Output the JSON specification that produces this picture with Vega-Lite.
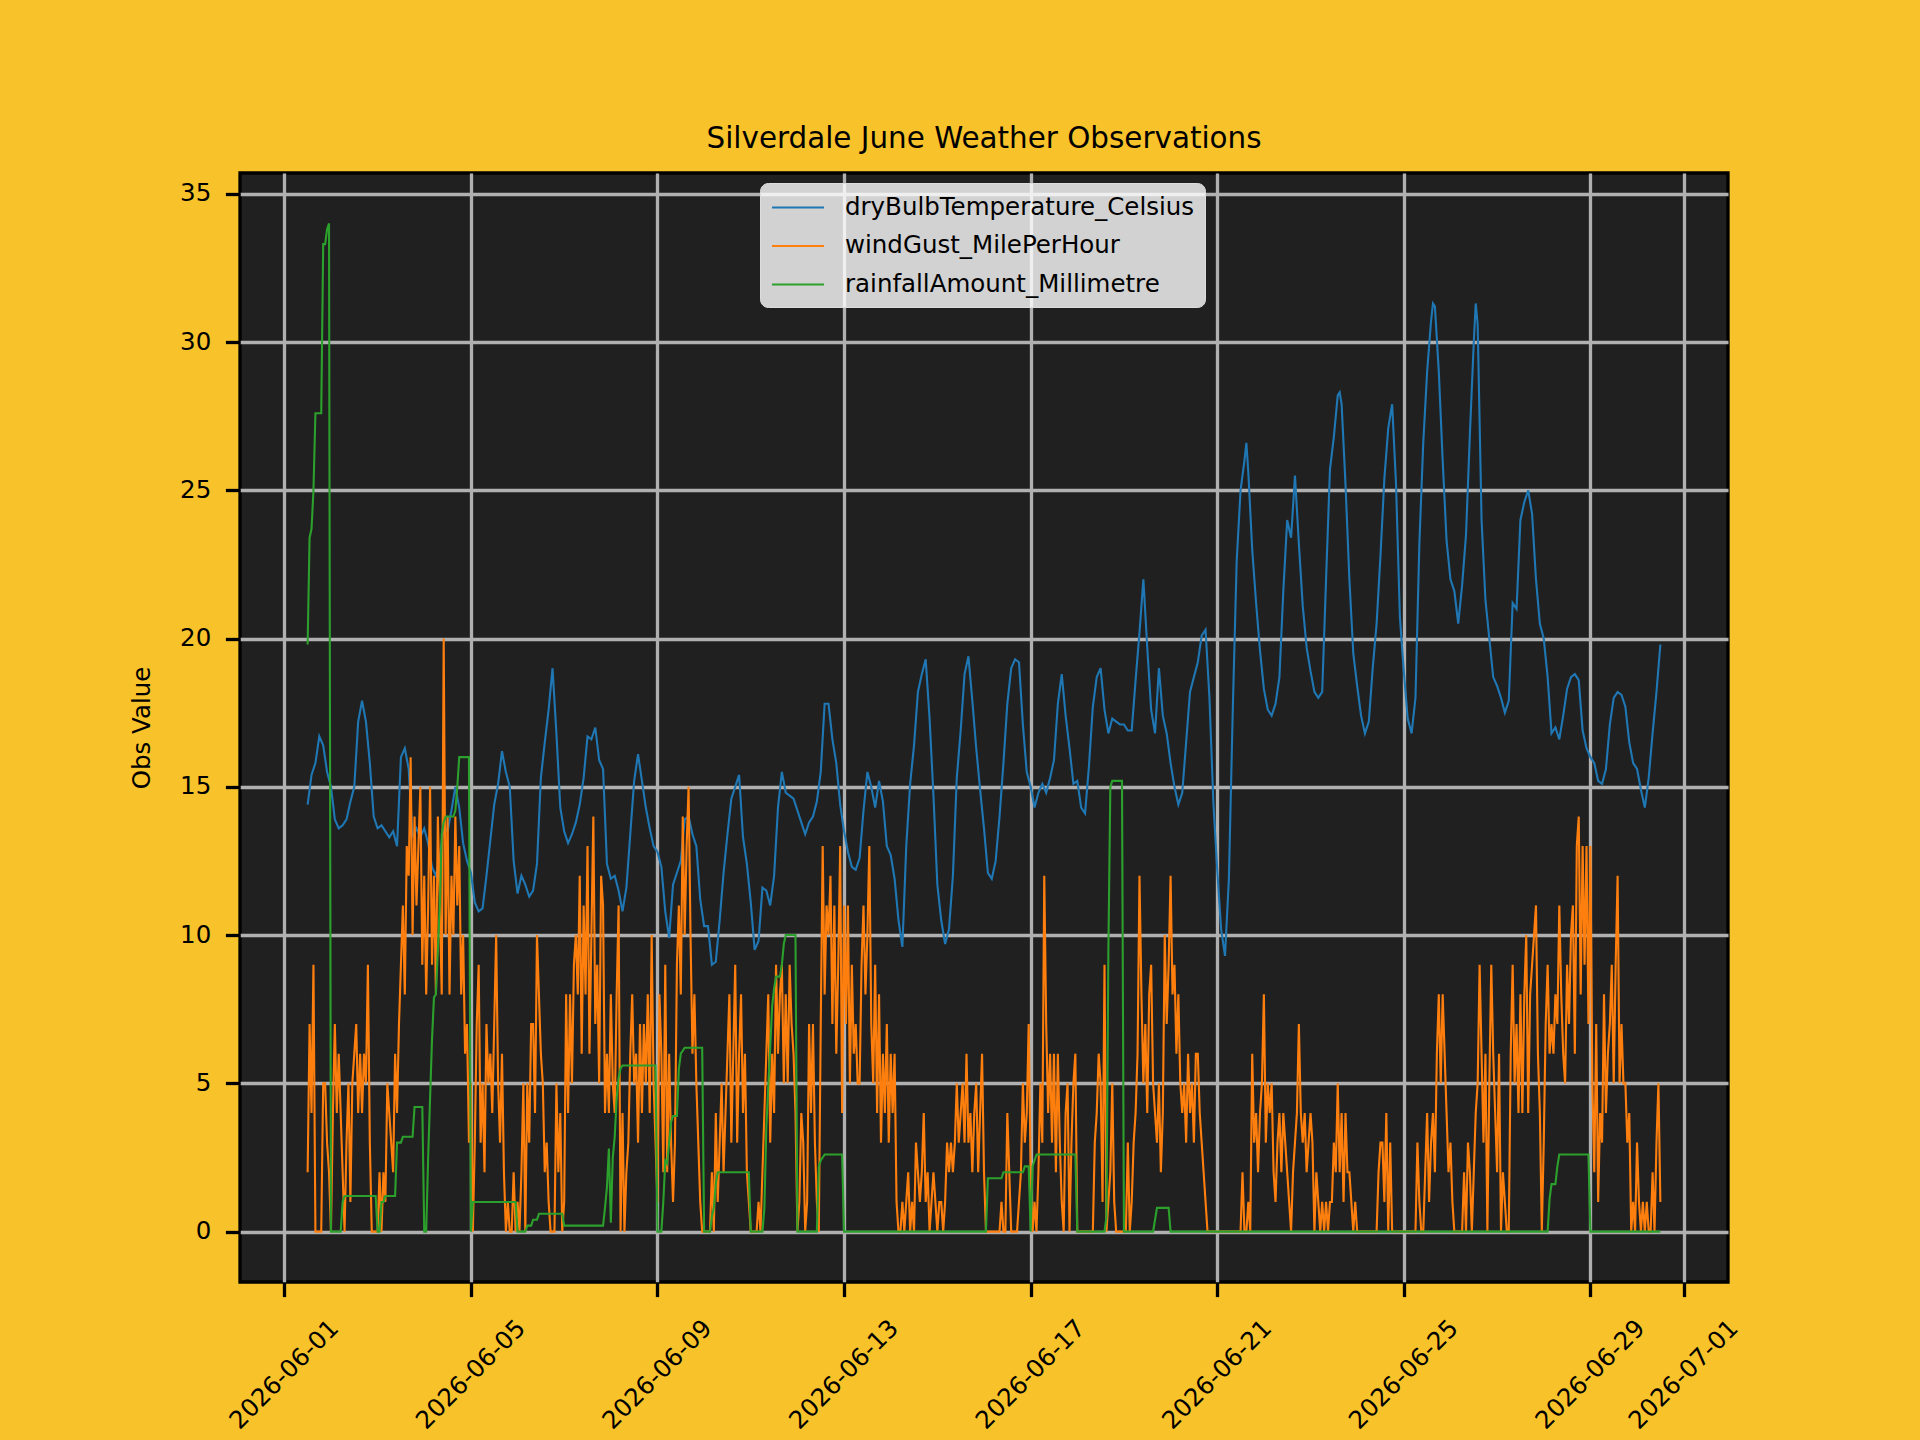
{
  "$schema": "https://vega.github.io/schema/vega-lite/v6.json",
  "width": 1488,
  "height": 1109,
  "autosize": {"type": "none"},
  "padding": {"left": 240, "top": 173, "right": 192, "bottom": 158},
  "background": "#F8C32A",
  "title": {
    "text": "Silverdale June Weather Observations",
    "font": "DejaVu Sans",
    "fontSize": 29.4,
    "fontWeight": "normal",
    "color": "#000000",
    "anchor": "middle",
    "frame": "group",
    "baseline": "alphabetic",
    "offset": -4.4
  },
  "config": {
    "font": "DejaVu Sans",
    "view": {"fill": "#202020", "stroke": "#000000", "strokeWidth": 3.3},
    "axis": {
      "domain": false,
      "grid": true,
      "gridColor": "#b0b0b0",
      "gridWidth": 3.3,
      "tickColor": "#000000",
      "tickWidth": 3.3,
      "tickSize": 14.6,
      "labelColor": "#000000",
      "labelFont": "DejaVu Sans",
      "labelFontSize": 24.5,
      "titleFont": "DejaVu Sans",
      "titleFontSize": 24.5,
      "titleFontWeight": "normal",
      "titleColor": "#000000"
    }
  },
  "encoding": {
    "x": {
      "field": "t",
      "type": "temporal",
      "scale": {
        "domain": [
          {"year": 2026, "month": 5, "date": 31, "hours": 1, "minutes": 12},
          {"year": 2026, "month": 7, "date": 1, "hours": 22, "minutes": 48}
        ]
      },
      "axis": {
        "title": null,
        "format": "%Y-%m-%d",
        "values": [
          {"year": 2026, "month": 6, "date": 1},
          {"year": 2026, "month": 6, "date": 5},
          {"year": 2026, "month": 6, "date": 9},
          {"year": 2026, "month": 6, "date": 13},
          {"year": 2026, "month": 6, "date": 17},
          {"year": 2026, "month": 6, "date": 21},
          {"year": 2026, "month": 6, "date": 25},
          {"year": 2026, "month": 6, "date": 29},
          {"year": 2026, "month": 7, "date": 1}
        ],
        "labelAngle": -45,
        "labelAlign": "center",
        "labelBaseline": "middle",
        "labelPadding": 78,
        "labelFlush": false,
        "labelOverlap": false
      }
    },
    "y": {
      "field": "v",
      "type": "quantitative",
      "scale": {"domain": [-1.7, 35.7], "nice": false, "zero": false},
      "axis": {
        "title": "Obs Value",
        "values": [0, 5, 10, 15, 20, 25, 30, 35],
        "labelPadding": 14.6,
        "titlePadding": 25
      }
    }
  },
  "layer": [
    {
      "data": {
        "format": {"parse": {"t": "date:'%Y%m%d%H'"}},
        "values": [
{"t":"2026060112","v":14.4},{"t":"2026060114","v":15.4},{"t":"2026060116","v":15.8},{"t":"2026060118","v":16.7},{"t":"2026060120","v":16.4},{"t":"2026060122","v":15.5},
{"t":"2026060200","v":15.0},{"t":"2026060202","v":13.9},{"t":"2026060204","v":13.6},{"t":"2026060206","v":13.7},{"t":"2026060208","v":13.9},{"t":"2026060210","v":14.5},{"t":"2026060212","v":15.0},{"t":"2026060214","v":17.2},{"t":"2026060216","v":17.9},{"t":"2026060218","v":17.2},{"t":"2026060220","v":15.8},{"t":"2026060222","v":14.0},
{"t":"2026060300","v":13.6},{"t":"2026060302","v":13.7},{"t":"2026060304","v":13.5},{"t":"2026060306","v":13.3},{"t":"2026060308","v":13.5},{"t":"2026060310","v":13.0},{"t":"2026060312","v":16.0},{"t":"2026060314","v":16.3},{"t":"2026060316","v":15.6},{"t":"2026060318","v":13.3},{"t":"2026060320","v":13.6},{"t":"2026060322","v":13.3},
{"t":"2026060400","v":13.6},{"t":"2026060402","v":13.1},{"t":"2026060404","v":12.3},{"t":"2026060406","v":12.0},{"t":"2026060408","v":12.6},{"t":"2026060410","v":13.7},{"t":"2026060412","v":13.5},{"t":"2026060414","v":14.2},{"t":"2026060416","v":15.0},{"t":"2026060418","v":14.3},{"t":"2026060420","v":13.1},{"t":"2026060422","v":12.5},
{"t":"2026060500","v":12.1},{"t":"2026060502","v":11.1},{"t":"2026060504","v":10.8},{"t":"2026060506","v":10.9},{"t":"2026060508","v":12.0},{"t":"2026060510","v":13.2},{"t":"2026060512","v":14.4},{"t":"2026060514","v":15.1},{"t":"2026060516","v":16.2},{"t":"2026060518","v":15.5},{"t":"2026060520","v":15.0},{"t":"2026060522","v":12.5},
{"t":"2026060600","v":11.4},{"t":"2026060602","v":12.0},{"t":"2026060604","v":11.7},{"t":"2026060606","v":11.3},{"t":"2026060608","v":11.5},{"t":"2026060610","v":12.4},{"t":"2026060612","v":15.3},{"t":"2026060614","v":16.5},{"t":"2026060616","v":17.6},{"t":"2026060618","v":19.0},{"t":"2026060620","v":16.8},{"t":"2026060622","v":14.3},
{"t":"2026060700","v":13.5},{"t":"2026060702","v":13.1},{"t":"2026060704","v":13.4},{"t":"2026060706","v":13.8},{"t":"2026060708","v":14.4},{"t":"2026060710","v":15.3},{"t":"2026060712","v":16.7},{"t":"2026060714","v":16.6},{"t":"2026060716","v":17.0},{"t":"2026060718","v":15.9},{"t":"2026060720","v":15.6},{"t":"2026060722","v":12.4},
{"t":"2026060800","v":11.9},{"t":"2026060802","v":12.0},{"t":"2026060804","v":11.5},{"t":"2026060806","v":10.8},{"t":"2026060808","v":11.6},{"t":"2026060810","v":13.4},{"t":"2026060812","v":15.2},{"t":"2026060814","v":16.1},{"t":"2026060816","v":15.2},{"t":"2026060818","v":14.3},{"t":"2026060820","v":13.6},{"t":"2026060822","v":13.0},
{"t":"2026060900","v":12.8},{"t":"2026060902","v":12.3},{"t":"2026060904","v":10.8},{"t":"2026060906","v":9.9},{"t":"2026060908","v":11.7},{"t":"2026060910","v":12.1},{"t":"2026060912","v":12.5},{"t":"2026060914","v":13.9},{"t":"2026060916","v":14.0},{"t":"2026060918","v":13.4},{"t":"2026060920","v":13.0},{"t":"2026060922","v":11.2},
{"t":"2026061000","v":10.3},{"t":"2026061002","v":10.3},{"t":"2026061004","v":9.0},{"t":"2026061006","v":9.1},{"t":"2026061008","v":10.5},{"t":"2026061010","v":12.1},{"t":"2026061012","v":13.4},{"t":"2026061014","v":14.6},{"t":"2026061016","v":15.0},{"t":"2026061018","v":15.4},{"t":"2026061020","v":13.3},{"t":"2026061022","v":12.4},
{"t":"2026061100","v":11.1},{"t":"2026061102","v":9.5},{"t":"2026061104","v":9.8},{"t":"2026061106","v":11.6},{"t":"2026061108","v":11.5},{"t":"2026061110","v":11.0},{"t":"2026061112","v":12.0},{"t":"2026061114","v":14.3},{"t":"2026061116","v":15.5},{"t":"2026061118","v":14.8},{"t":"2026061120","v":14.7},{"t":"2026061122","v":14.6},
{"t":"2026061200","v":14.2},{"t":"2026061202","v":13.8},{"t":"2026061204","v":13.4},{"t":"2026061206","v":13.8},{"t":"2026061208","v":14.0},{"t":"2026061210","v":14.5},{"t":"2026061212","v":15.5},{"t":"2026061214","v":17.8},{"t":"2026061216","v":17.8},{"t":"2026061218","v":16.6},{"t":"2026061220","v":15.8},{"t":"2026061222","v":14.4},
{"t":"2026061300","v":13.5},{"t":"2026061302","v":12.8},{"t":"2026061304","v":12.3},{"t":"2026061306","v":12.2},{"t":"2026061308","v":12.6},{"t":"2026061310","v":14.2},{"t":"2026061312","v":15.5},{"t":"2026061314","v":15.0},{"t":"2026061316","v":14.3},{"t":"2026061318","v":15.2},{"t":"2026061320","v":14.5},{"t":"2026061322","v":13.0},
{"t":"2026061400","v":12.7},{"t":"2026061402","v":11.9},{"t":"2026061404","v":10.5},{"t":"2026061406","v":9.6},{"t":"2026061408","v":13.0},{"t":"2026061410","v":15.1},{"t":"2026061412","v":16.4},{"t":"2026061414","v":18.2},{"t":"2026061416","v":18.8},{"t":"2026061418","v":19.3},{"t":"2026061420","v":17.3},{"t":"2026061422","v":14.7},
{"t":"2026061500","v":11.7},{"t":"2026061502","v":10.5},{"t":"2026061504","v":9.7},{"t":"2026061506","v":10.2},{"t":"2026061508","v":12.0},{"t":"2026061510","v":15.3},{"t":"2026061512","v":16.9},{"t":"2026061514","v":18.8},{"t":"2026061516","v":19.4},{"t":"2026061518","v":17.9},{"t":"2026061520","v":16.3},{"t":"2026061522","v":14.9},
{"t":"2026061600","v":13.6},{"t":"2026061602","v":12.1},{"t":"2026061604","v":11.9},{"t":"2026061606","v":12.5},{"t":"2026061608","v":14.0},{"t":"2026061610","v":15.8},{"t":"2026061612","v":17.8},{"t":"2026061614","v":19.0},{"t":"2026061616","v":19.3},{"t":"2026061618","v":19.2},{"t":"2026061620","v":17.1},{"t":"2026061622","v":15.5},
{"t":"2026061700","v":15.0},{"t":"2026061702","v":14.3},{"t":"2026061704","v":14.8},{"t":"2026061706","v":15.1},{"t":"2026061708","v":14.8},{"t":"2026061710","v":15.3},{"t":"2026061712","v":15.9},{"t":"2026061714","v":17.8},{"t":"2026061716","v":18.8},{"t":"2026061718","v":17.4},{"t":"2026061720","v":16.3},{"t":"2026061722","v":15.1},
{"t":"2026061800","v":15.2},{"t":"2026061802","v":14.3},{"t":"2026061804","v":14.1},{"t":"2026061806","v":15.7},{"t":"2026061808","v":17.7},{"t":"2026061810","v":18.7},{"t":"2026061812","v":19.0},{"t":"2026061814","v":17.6},{"t":"2026061816","v":16.8},{"t":"2026061818","v":17.3},{"t":"2026061820","v":17.2},{"t":"2026061822","v":17.1},
{"t":"2026061900","v":17.1},{"t":"2026061902","v":16.9},{"t":"2026061904","v":16.9},{"t":"2026061906","v":18.6},{"t":"2026061908","v":20.2},{"t":"2026061910","v":22.0},{"t":"2026061912","v":19.7},{"t":"2026061914","v":17.6},{"t":"2026061916","v":16.8},{"t":"2026061918","v":19.0},{"t":"2026061920","v":17.4},{"t":"2026061922","v":16.8},
{"t":"2026062000","v":15.8},{"t":"2026062002","v":15.0},{"t":"2026062004","v":14.4},{"t":"2026062006","v":14.8},{"t":"2026062008","v":16.5},{"t":"2026062010","v":18.2},{"t":"2026062012","v":18.7},{"t":"2026062014","v":19.2},{"t":"2026062016","v":20.1},{"t":"2026062018","v":20.3},{"t":"2026062020","v":18.0},{"t":"2026062022","v":14.5},
{"t":"2026062100","v":12.2},{"t":"2026062102","v":10.2},{"t":"2026062104","v":9.3},{"t":"2026062106","v":11.9},{"t":"2026062108","v":17.6},{"t":"2026062110","v":22.6},{"t":"2026062112","v":25.0},{"t":"2026062114","v":26.0},{"t":"2026062115","v":26.6},{"t":"2026062116","v":25.6},{"t":"2026062118","v":23.0},{"t":"2026062120","v":21.2},{"t":"2026062122","v":19.6},
{"t":"2026062200","v":18.3},{"t":"2026062202","v":17.6},{"t":"2026062204","v":17.4},{"t":"2026062206","v":17.8},{"t":"2026062208","v":18.7},{"t":"2026062210","v":21.6},{"t":"2026062212","v":24.0},{"t":"2026062214","v":23.4},{"t":"2026062216","v":25.5},{"t":"2026062218","v":23.2},{"t":"2026062220","v":21.1},{"t":"2026062222","v":19.7},
{"t":"2026062300","v":18.9},{"t":"2026062302","v":18.2},{"t":"2026062304","v":18.0},{"t":"2026062306","v":18.2},{"t":"2026062308","v":22.0},{"t":"2026062310","v":25.7},{"t":"2026062312","v":26.8},{"t":"2026062314","v":28.2},{"t":"2026062315","v":28.3},{"t":"2026062316","v":27.9},{"t":"2026062318","v":25.2},{"t":"2026062320","v":22.0},{"t":"2026062322","v":19.5},
{"t":"2026062400","v":18.4},{"t":"2026062402","v":17.4},{"t":"2026062404","v":16.8},{"t":"2026062406","v":17.2},{"t":"2026062408","v":19.0},{"t":"2026062410","v":20.5},{"t":"2026062412","v":22.8},{"t":"2026062414","v":25.4},{"t":"2026062416","v":27.1},{"t":"2026062418","v":27.9},{"t":"2026062420","v":25.2},{"t":"2026062422","v":20.7},
{"t":"2026062500","v":18.9},{"t":"2026062502","v":17.3},{"t":"2026062504","v":16.8},{"t":"2026062506","v":18.0},{"t":"2026062508","v":23.2},{"t":"2026062510","v":26.6},{"t":"2026062512","v":29.0},{"t":"2026062514","v":30.7},{"t":"2026062515","v":31.3},{"t":"2026062516","v":31.2},{"t":"2026062518","v":29.0},{"t":"2026062520","v":26.0},{"t":"2026062522","v":23.3},
{"t":"2026062600","v":22.0},{"t":"2026062602","v":21.6},{"t":"2026062604","v":20.5},{"t":"2026062606","v":21.8},{"t":"2026062608","v":23.5},{"t":"2026062610","v":26.9},{"t":"2026062612","v":30.0},{"t":"2026062613","v":31.3},{"t":"2026062614","v":30.6},{"t":"2026062616","v":24.0},{"t":"2026062618","v":21.3},{"t":"2026062620","v":20.0},{"t":"2026062622","v":18.7},
{"t":"2026062700","v":18.4},{"t":"2026062702","v":18.0},{"t":"2026062704","v":17.5},{"t":"2026062706","v":17.9},{"t":"2026062708","v":21.2},{"t":"2026062710","v":21.0},{"t":"2026062712","v":24.0},{"t":"2026062714","v":24.6},{"t":"2026062716","v":25.0},{"t":"2026062718","v":24.2},{"t":"2026062720","v":22.0},{"t":"2026062722","v":20.5},
{"t":"2026062800","v":20.0},{"t":"2026062802","v":18.7},{"t":"2026062804","v":16.8},{"t":"2026062806","v":17.0},{"t":"2026062808","v":16.6},{"t":"2026062810","v":17.4},{"t":"2026062812","v":18.3},{"t":"2026062814","v":18.7},{"t":"2026062816","v":18.8},{"t":"2026062818","v":18.6},{"t":"2026062820","v":16.9},{"t":"2026062822","v":16.3},
{"t":"2026062900","v":16.0},{"t":"2026062902","v":15.8},{"t":"2026062904","v":15.2},{"t":"2026062906","v":15.1},{"t":"2026062908","v":15.6},{"t":"2026062910","v":17.1},{"t":"2026062912","v":18.0},{"t":"2026062914","v":18.2},{"t":"2026062916","v":18.1},{"t":"2026062918","v":17.7},{"t":"2026062920","v":16.5},{"t":"2026062922","v":15.8},
{"t":"2026063000","v":15.6},{"t":"2026063002","v":14.9},{"t":"2026063004","v":14.3},{"t":"2026063006","v":15.3},{"t":"2026063008","v":16.8},{"t":"2026063010","v":18.2},{"t":"2026063012","v":19.8}
        ]
      },
      "mark": {"type": "line", "strokeWidth": 2.1},
      "encoding": {
        "color": {
          "datum": "dryBulbTemperature_Celsius",
          "scale": {
            "domain": ["dryBulbTemperature_Celsius", "windGust_MilePerHour", "rainfallAmount_Millimetre"],
            "range": ["#1f77b4", "#ff7f0e", "#2ca02c"]
          },
          "legend": {
            "title": null,
            "orient": "none",
            "legendX": 520,
            "legendY": 10,
            "fillColor": "rgba(255,255,255,0.8)",
            "strokeColor": "#dddddd",
            "cornerRadius": 8,
            "padding": 10.5,
            "labelFont": "DejaVu Sans",
            "labelFontSize": 24.5,
            "labelColor": "#000000",
            "labelLimit": 1000,
            "labelOffset": 46.5,
            "symbolType": "M-1,0H3.16",
            "symbolSize": 625,
            "symbolStrokeWidth": 2.1,
            "rowPadding": 12.5
          }
        }
      }
    },
    {
      "data": {
        "format": {"parse": {"t": "date:'%Y%m%d%H'"}},
        "values": [
{"t":"2026060112","v":2},{"t":"2026060113","v":7},{"t":"2026060114","v":4},{"t":"2026060115","v":9},{"t":"2026060116","v":0},{"t":"2026060119","v":0},{"t":"2026060120","v":5},{"t":"2026060121","v":5},{"t":"2026060122","v":3},{"t":"2026060123","v":2},
{"t":"2026060200","v":0},{"t":"2026060201","v":4},{"t":"2026060202","v":7},{"t":"2026060203","v":4},{"t":"2026060204","v":6},{"t":"2026060205","v":4},{"t":"2026060206","v":2},{"t":"2026060207","v":0},{"t":"2026060208","v":3},{"t":"2026060209","v":5},{"t":"2026060210","v":1},{"t":"2026060211","v":5},{"t":"2026060212","v":6},{"t":"2026060213","v":7},{"t":"2026060214","v":4},{"t":"2026060215","v":6},{"t":"2026060216","v":4},{"t":"2026060217","v":6},{"t":"2026060218","v":5},{"t":"2026060219","v":9},{"t":"2026060220","v":3},{"t":"2026060221","v":0},
{"t":"2026060300","v":0},{"t":"2026060301","v":2},{"t":"2026060302","v":0},{"t":"2026060303","v":2},{"t":"2026060304","v":1},{"t":"2026060305","v":5},{"t":"2026060306","v":4},{"t":"2026060307","v":3},{"t":"2026060308","v":2},{"t":"2026060309","v":6},{"t":"2026060310","v":4},{"t":"2026060311","v":7},{"t":"2026060312","v":9},{"t":"2026060313","v":11},{"t":"2026060314","v":8},{"t":"2026060315","v":13},{"t":"2026060316","v":12},{"t":"2026060317","v":16},{"t":"2026060318","v":10},{"t":"2026060319","v":14},{"t":"2026060320","v":11},{"t":"2026060321","v":13},{"t":"2026060322","v":15},{"t":"2026060323","v":9},
{"t":"2026060400","v":12},{"t":"2026060401","v":8},{"t":"2026060402","v":11},{"t":"2026060403","v":15},{"t":"2026060404","v":9},{"t":"2026060405","v":12},{"t":"2026060406","v":8},{"t":"2026060407","v":14},{"t":"2026060408","v":11},{"t":"2026060409","v":8},{"t":"2026060410","v":20},{"t":"2026060411","v":10},{"t":"2026060412","v":14},{"t":"2026060413","v":8},{"t":"2026060414","v":12},{"t":"2026060415","v":10},{"t":"2026060416","v":14},{"t":"2026060417","v":11},{"t":"2026060418","v":13},{"t":"2026060419","v":8},{"t":"2026060420","v":10},{"t":"2026060421","v":6},{"t":"2026060422","v":7},{"t":"2026060423","v":3},
{"t":"2026060500","v":5},{"t":"2026060501","v":0},{"t":"2026060502","v":3},{"t":"2026060503","v":7},{"t":"2026060504","v":9},{"t":"2026060505","v":3},{"t":"2026060506","v":5},{"t":"2026060507","v":2},{"t":"2026060508","v":7},{"t":"2026060509","v":5},{"t":"2026060510","v":6},{"t":"2026060511","v":4},{"t":"2026060512","v":7},{"t":"2026060513","v":10},{"t":"2026060514","v":5},{"t":"2026060515","v":3},{"t":"2026060516","v":6},{"t":"2026060517","v":2},{"t":"2026060518","v":0},{"t":"2026060519","v":1},{"t":"2026060520","v":0},{"t":"2026060521","v":0},{"t":"2026060522","v":2},{"t":"2026060523","v":0},
{"t":"2026060600","v":1},{"t":"2026060601","v":0},{"t":"2026060602","v":2},{"t":"2026060603","v":5},{"t":"2026060604","v":0},{"t":"2026060605","v":5},{"t":"2026060606","v":3},{"t":"2026060607","v":7},{"t":"2026060608","v":7},{"t":"2026060609","v":4},{"t":"2026060610","v":10},{"t":"2026060611","v":8},{"t":"2026060612","v":6},{"t":"2026060613","v":5},{"t":"2026060614","v":2},{"t":"2026060615","v":3},{"t":"2026060616","v":1},{"t":"2026060617","v":0},{"t":"2026060619","v":0},{"t":"2026060620","v":5},{"t":"2026060621","v":2},{"t":"2026060622","v":4},{"t":"2026060623","v":0},
{"t":"2026060700","v":1},{"t":"2026060701","v":8},{"t":"2026060702","v":4},{"t":"2026060703","v":8},{"t":"2026060704","v":5},{"t":"2026060705","v":9},{"t":"2026060706","v":10},{"t":"2026060707","v":8},{"t":"2026060708","v":12},{"t":"2026060709","v":6},{"t":"2026060710","v":11},{"t":"2026060711","v":8},{"t":"2026060712","v":13},{"t":"2026060713","v":6},{"t":"2026060714","v":10},{"t":"2026060715","v":14},{"t":"2026060716","v":7},{"t":"2026060717","v":9},{"t":"2026060718","v":5},{"t":"2026060719","v":12},{"t":"2026060720","v":11},{"t":"2026060721","v":4},{"t":"2026060722","v":6},{"t":"2026060723","v":4},
{"t":"2026060800","v":8},{"t":"2026060801","v":5},{"t":"2026060802","v":4},{"t":"2026060803","v":8},{"t":"2026060804","v":11},{"t":"2026060805","v":0},{"t":"2026060806","v":4},{"t":"2026060807","v":0},{"t":"2026060808","v":2},{"t":"2026060809","v":3},{"t":"2026060810","v":6},{"t":"2026060811","v":8},{"t":"2026060812","v":5},{"t":"2026060813","v":6},{"t":"2026060814","v":3},{"t":"2026060815","v":7},{"t":"2026060816","v":4},{"t":"2026060817","v":7},{"t":"2026060818","v":5},{"t":"2026060819","v":8},{"t":"2026060820","v":4},{"t":"2026060821","v":10},{"t":"2026060822","v":5},{"t":"2026060823","v":3},
{"t":"2026060900","v":1},{"t":"2026060901","v":8},{"t":"2026060902","v":6},{"t":"2026060903","v":2},{"t":"2026060904","v":9},{"t":"2026060905","v":2},{"t":"2026060906","v":6},{"t":"2026060907","v":3},{"t":"2026060908","v":1},{"t":"2026060909","v":3},{"t":"2026060910","v":9},{"t":"2026060911","v":11},{"t":"2026060912","v":8},{"t":"2026060913","v":14},{"t":"2026060914","v":10},{"t":"2026060915","v":13},{"t":"2026060916","v":15},{"t":"2026060917","v":10},{"t":"2026060918","v":6},{"t":"2026060919","v":8},{"t":"2026060920","v":5},{"t":"2026060921","v":3},{"t":"2026060922","v":1},{"t":"2026060923","v":0},
{"t":"2026061003","v":0},{"t":"2026061004","v":2},{"t":"2026061005","v":0},{"t":"2026061006","v":4},{"t":"2026061007","v":1},{"t":"2026061008","v":3},{"t":"2026061009","v":5},{"t":"2026061010","v":2},{"t":"2026061011","v":4},{"t":"2026061012","v":6},{"t":"2026061013","v":8},{"t":"2026061014","v":3},{"t":"2026061015","v":6},{"t":"2026061016","v":9},{"t":"2026061017","v":3},{"t":"2026061018","v":6},{"t":"2026061019","v":8},{"t":"2026061020","v":4},{"t":"2026061021","v":6},{"t":"2026061022","v":2},{"t":"2026061023","v":1},
{"t":"2026061100","v":0},{"t":"2026061103","v":0},{"t":"2026061104","v":1},{"t":"2026061105","v":0},{"t":"2026061106","v":2},{"t":"2026061107","v":4},{"t":"2026061108","v":6},{"t":"2026061109","v":8},{"t":"2026061110","v":3},{"t":"2026061111","v":6},{"t":"2026061112","v":4},{"t":"2026061113","v":9},{"t":"2026061114","v":6},{"t":"2026061115","v":8},{"t":"2026061116","v":9},{"t":"2026061117","v":5},{"t":"2026061118","v":8},{"t":"2026061119","v":5},{"t":"2026061120","v":9},{"t":"2026061121","v":7},{"t":"2026061122","v":6},{"t":"2026061123","v":4},
{"t":"2026061200","v":0},{"t":"2026061201","v":1},{"t":"2026061202","v":4},{"t":"2026061203","v":3},{"t":"2026061204","v":0},{"t":"2026061205","v":1},{"t":"2026061206","v":7},{"t":"2026061207","v":4},{"t":"2026061208","v":7},{"t":"2026061209","v":3},{"t":"2026061210","v":1},{"t":"2026061211","v":0},{"t":"2026061212","v":7},{"t":"2026061213","v":13},{"t":"2026061214","v":8},{"t":"2026061215","v":11},{"t":"2026061216","v":10},{"t":"2026061217","v":12},{"t":"2026061218","v":7},{"t":"2026061219","v":11},{"t":"2026061220","v":6},{"t":"2026061221","v":9},{"t":"2026061222","v":13},{"t":"2026061223","v":4},
{"t":"2026061300","v":11},{"t":"2026061301","v":7},{"t":"2026061302","v":11},{"t":"2026061303","v":5},{"t":"2026061304","v":9},{"t":"2026061305","v":6},{"t":"2026061306","v":7},{"t":"2026061307","v":5},{"t":"2026061308","v":5},{"t":"2026061309","v":9},{"t":"2026061310","v":11},{"t":"2026061311","v":8},{"t":"2026061312","v":10},{"t":"2026061313","v":13},{"t":"2026061314","v":7},{"t":"2026061315","v":5},{"t":"2026061316","v":9},{"t":"2026061317","v":4},{"t":"2026061318","v":8},{"t":"2026061319","v":3},{"t":"2026061320","v":6},{"t":"2026061321","v":4},{"t":"2026061322","v":7},{"t":"2026061323","v":3},
{"t":"2026061400","v":6},{"t":"2026061401","v":4},{"t":"2026061402","v":6},{"t":"2026061403","v":1},{"t":"2026061404","v":0},{"t":"2026061405","v":0},{"t":"2026061406","v":1},{"t":"2026061407","v":0},{"t":"2026061408","v":1},{"t":"2026061409","v":2},{"t":"2026061410","v":0},{"t":"2026061411","v":1},{"t":"2026061412","v":0},{"t":"2026061413","v":3},{"t":"2026061414","v":2},{"t":"2026061415","v":1},{"t":"2026061416","v":2},{"t":"2026061417","v":4},{"t":"2026061418","v":1},{"t":"2026061419","v":2},{"t":"2026061420","v":0},{"t":"2026061421","v":1},{"t":"2026061422","v":2},{"t":"2026061423","v":1},
{"t":"2026061500","v":0},{"t":"2026061501","v":1},{"t":"2026061502","v":1},{"t":"2026061503","v":0},{"t":"2026061504","v":1},{"t":"2026061505","v":3},{"t":"2026061506","v":2},{"t":"2026061507","v":3},{"t":"2026061508","v":2},{"t":"2026061509","v":3},{"t":"2026061510","v":5},{"t":"2026061511","v":3},{"t":"2026061512","v":4},{"t":"2026061513","v":5},{"t":"2026061514","v":3},{"t":"2026061515","v":6},{"t":"2026061516","v":3},{"t":"2026061517","v":4},{"t":"2026061518","v":2},{"t":"2026061519","v":4},{"t":"2026061520","v":5},{"t":"2026061521","v":2},{"t":"2026061522","v":4},{"t":"2026061523","v":6},
{"t":"2026061600","v":2},{"t":"2026061601","v":0},{"t":"2026061608","v":0},{"t":"2026061609","v":1},{"t":"2026061610","v":0},{"t":"2026061611","v":0},{"t":"2026061612","v":4},{"t":"2026061613","v":2},{"t":"2026061614","v":0},{"t":"2026061617","v":0},{"t":"2026061618","v":1},{"t":"2026061619","v":2},{"t":"2026061620","v":5},{"t":"2026061621","v":3},{"t":"2026061622","v":4},{"t":"2026061623","v":7},
{"t":"2026061700","v":2},{"t":"2026061701","v":0},{"t":"2026061702","v":1},{"t":"2026061703","v":0},{"t":"2026061704","v":2},{"t":"2026061705","v":5},{"t":"2026061706","v":3},{"t":"2026061707","v":12},{"t":"2026061708","v":7},{"t":"2026061709","v":4},{"t":"2026061710","v":6},{"t":"2026061711","v":3},{"t":"2026061712","v":6},{"t":"2026061713","v":2},{"t":"2026061714","v":6},{"t":"2026061715","v":3},{"t":"2026061716","v":1},{"t":"2026061717","v":0},{"t":"2026061718","v":4},{"t":"2026061719","v":5},{"t":"2026061720","v":0},{"t":"2026061721","v":3},{"t":"2026061722","v":5},{"t":"2026061723","v":6},
{"t":"2026061800","v":0},{"t":"2026061808","v":0},{"t":"2026061809","v":3},{"t":"2026061810","v":4},{"t":"2026061811","v":6},{"t":"2026061812","v":5},{"t":"2026061813","v":1},{"t":"2026061814","v":9},{"t":"2026061815","v":0},{"t":"2026061816","v":1},{"t":"2026061817","v":2},{"t":"2026061818","v":5},{"t":"2026061819","v":1},{"t":"2026061820","v":0},
{"t":"2026061901","v":0},{"t":"2026061902","v":3},{"t":"2026061903","v":0},{"t":"2026061904","v":1},{"t":"2026061905","v":3},{"t":"2026061906","v":4},{"t":"2026061907","v":6},{"t":"2026061908","v":12},{"t":"2026061909","v":8},{"t":"2026061910","v":5},{"t":"2026061911","v":7},{"t":"2026061912","v":4},{"t":"2026061913","v":8},{"t":"2026061914","v":9},{"t":"2026061915","v":5},{"t":"2026061916","v":4},{"t":"2026061917","v":3},{"t":"2026061918","v":5},{"t":"2026061919","v":2},{"t":"2026061920","v":4},{"t":"2026061921","v":10},{"t":"2026061922","v":7},{"t":"2026061923","v":9},
{"t":"2026062000","v":12},{"t":"2026062001","v":8},{"t":"2026062002","v":9},{"t":"2026062003","v":6},{"t":"2026062004","v":8},{"t":"2026062005","v":5},{"t":"2026062006","v":4},{"t":"2026062007","v":5},{"t":"2026062008","v":3},{"t":"2026062009","v":6},{"t":"2026062010","v":4},{"t":"2026062011","v":5},{"t":"2026062012","v":3},{"t":"2026062013","v":6},{"t":"2026062014","v":6},{"t":"2026062015","v":4},{"t":"2026062016","v":3},{"t":"2026062017","v":2},{"t":"2026062018","v":1},{"t":"2026062019","v":0},
{"t":"2026062112","v":0},{"t":"2026062113","v":2},{"t":"2026062114","v":0},{"t":"2026062115","v":0},{"t":"2026062116","v":1},{"t":"2026062117","v":0},{"t":"2026062118","v":6},{"t":"2026062119","v":3},{"t":"2026062120","v":4},{"t":"2026062121","v":2},{"t":"2026062122","v":4},{"t":"2026062123","v":5},
{"t":"2026062200","v":8},{"t":"2026062201","v":3},{"t":"2026062202","v":5},{"t":"2026062203","v":4},{"t":"2026062204","v":5},{"t":"2026062205","v":2},{"t":"2026062206","v":1},{"t":"2026062207","v":3},{"t":"2026062208","v":4},{"t":"2026062209","v":2},{"t":"2026062210","v":4},{"t":"2026062211","v":3},{"t":"2026062212","v":2},{"t":"2026062213","v":1},{"t":"2026062214","v":0},{"t":"2026062215","v":2},{"t":"2026062216","v":3},{"t":"2026062217","v":4},{"t":"2026062218","v":7},{"t":"2026062219","v":4},{"t":"2026062220","v":3},{"t":"2026062221","v":4},{"t":"2026062222","v":2},{"t":"2026062223","v":3},
{"t":"2026062300","v":4},{"t":"2026062301","v":3},{"t":"2026062302","v":0},{"t":"2026062303","v":2},{"t":"2026062304","v":1},{"t":"2026062305","v":0},{"t":"2026062306","v":1},{"t":"2026062307","v":0},{"t":"2026062308","v":1},{"t":"2026062309","v":0},{"t":"2026062310","v":1},{"t":"2026062311","v":1},{"t":"2026062312","v":3},{"t":"2026062313","v":2},{"t":"2026062314","v":5},{"t":"2026062315","v":2},{"t":"2026062316","v":4},{"t":"2026062317","v":1},{"t":"2026062318","v":4},{"t":"2026062319","v":2},{"t":"2026062320","v":2},{"t":"2026062321","v":1},{"t":"2026062322","v":0},{"t":"2026062323","v":1},
{"t":"2026062400","v":0},{"t":"2026062410","v":0},{"t":"2026062411","v":2},{"t":"2026062412","v":3},{"t":"2026062413","v":3},{"t":"2026062414","v":1},{"t":"2026062415","v":4},{"t":"2026062416","v":0},{"t":"2026062417","v":3},{"t":"2026062418","v":0},
{"t":"2026062506","v":0},{"t":"2026062507","v":3},{"t":"2026062508","v":1},{"t":"2026062509","v":0},{"t":"2026062510","v":0},{"t":"2026062511","v":2},{"t":"2026062512","v":4},{"t":"2026062513","v":1},{"t":"2026062514","v":3},{"t":"2026062515","v":4},{"t":"2026062516","v":2},{"t":"2026062517","v":6},{"t":"2026062518","v":8},{"t":"2026062519","v":5},{"t":"2026062520","v":8},{"t":"2026062521","v":6},{"t":"2026062522","v":4},{"t":"2026062523","v":2},
{"t":"2026062600","v":3},{"t":"2026062601","v":1},{"t":"2026062602","v":0},{"t":"2026062606","v":0},{"t":"2026062607","v":2},{"t":"2026062608","v":0},{"t":"2026062609","v":3},{"t":"2026062610","v":2},{"t":"2026062611","v":0},{"t":"2026062612","v":2},{"t":"2026062613","v":4},{"t":"2026062614","v":5},{"t":"2026062615","v":9},{"t":"2026062616","v":6},{"t":"2026062617","v":3},{"t":"2026062618","v":6},{"t":"2026062619","v":0},{"t":"2026062620","v":5},{"t":"2026062621","v":9},{"t":"2026062622","v":6},{"t":"2026062623","v":4},
{"t":"2026062700","v":2},{"t":"2026062701","v":6},{"t":"2026062702","v":0},{"t":"2026062703","v":2},{"t":"2026062704","v":1},{"t":"2026062705","v":0},{"t":"2026062706","v":0},{"t":"2026062707","v":6},{"t":"2026062708","v":9},{"t":"2026062709","v":5},{"t":"2026062710","v":7},{"t":"2026062711","v":4},{"t":"2026062712","v":8},{"t":"2026062713","v":4},{"t":"2026062714","v":8},{"t":"2026062715","v":10},{"t":"2026062716","v":4},{"t":"2026062717","v":8},{"t":"2026062718","v":9},{"t":"2026062719","v":10},{"t":"2026062720","v":11},{"t":"2026062721","v":6},{"t":"2026062722","v":4},{"t":"2026062723","v":0},
{"t":"2026062800","v":3},{"t":"2026062801","v":7},{"t":"2026062802","v":9},{"t":"2026062803","v":6},{"t":"2026062804","v":7},{"t":"2026062805","v":6},{"t":"2026062806","v":8},{"t":"2026062807","v":7},{"t":"2026062808","v":11},{"t":"2026062809","v":8},{"t":"2026062810","v":6},{"t":"2026062811","v":5},{"t":"2026062812","v":9},{"t":"2026062813","v":7},{"t":"2026062814","v":10},{"t":"2026062815","v":11},{"t":"2026062816","v":6},{"t":"2026062817","v":13},{"t":"2026062818","v":14},{"t":"2026062819","v":8},{"t":"2026062820","v":13},{"t":"2026062821","v":9},{"t":"2026062822","v":13},{"t":"2026062823","v":7},
{"t":"2026062900","v":13},{"t":"2026062901","v":5},{"t":"2026062902","v":2},{"t":"2026062903","v":7},{"t":"2026062904","v":1},{"t":"2026062905","v":4},{"t":"2026062906","v":3},{"t":"2026062907","v":8},{"t":"2026062908","v":4},{"t":"2026062909","v":6},{"t":"2026062910","v":7},{"t":"2026062911","v":9},{"t":"2026062912","v":5},{"t":"2026062913","v":9},{"t":"2026062914","v":12},{"t":"2026062915","v":5},{"t":"2026062916","v":7},{"t":"2026062917","v":5},{"t":"2026062918","v":5},{"t":"2026062919","v":3},{"t":"2026062920","v":4},{"t":"2026062921","v":0},{"t":"2026062922","v":1},{"t":"2026062923","v":0},
{"t":"2026063000","v":3},{"t":"2026063001","v":1},{"t":"2026063002","v":0},{"t":"2026063003","v":1},{"t":"2026063004","v":0},{"t":"2026063005","v":1},{"t":"2026063006","v":0},{"t":"2026063007","v":0},{"t":"2026063008","v":2},{"t":"2026063009","v":0},{"t":"2026063010","v":3},{"t":"2026063011","v":5},{"t":"2026063012","v":1}
        ]
      },
      "mark": {"type": "line", "strokeWidth": 2.1},
      "encoding": {"color": {"datum": "windGust_MilePerHour"}}
    },
    {
      "data": {
        "format": {"parse": {"t": "date:'%Y%m%d%H'"}},
        "values": [
{"t":"2026060112","v":19.8},{"t":"2026060113","v":23.4},{"t":"2026060114","v":23.7},{"t":"2026060115","v":25.0},{"t":"2026060116","v":27.6},{"t":"2026060119","v":27.6},{"t":"2026060120","v":33.3},{"t":"2026060121","v":33.3},{"t":"2026060122","v":33.8},{"t":"2026060123","v":34.0},
{"t":"2026060200","v":0},{"t":"2026060205","v":0},{"t":"2026060206","v":1.0},{"t":"2026060207","v":1.2},{"t":"2026060223","v":1.2},
{"t":"2026060300","v":0},{"t":"2026060301","v":0},{"t":"2026060302","v":1.0},{"t":"2026060303","v":1.0},{"t":"2026060304","v":1.2},{"t":"2026060309","v":1.2},{"t":"2026060310","v":3.0},{"t":"2026060312","v":3.0},{"t":"2026060313","v":3.2},{"t":"2026060318","v":3.2},{"t":"2026060319","v":4.2},{"t":"2026060323","v":4.2},
{"t":"2026060400","v":0},{"t":"2026060401","v":0},{"t":"2026060402","v":2.5},{"t":"2026060403","v":4.5},{"t":"2026060404","v":6.5},{"t":"2026060405","v":7.9},{"t":"2026060406","v":8.0},{"t":"2026060407","v":9.5},{"t":"2026060408","v":11.0},{"t":"2026060409","v":13.4},{"t":"2026060410","v":13.8},{"t":"2026060411","v":14.0},{"t":"2026060415","v":14.0},{"t":"2026060416","v":14.2},{"t":"2026060417","v":15.0},{"t":"2026060418","v":16.0},{"t":"2026060423","v":16.0},
{"t":"2026060500","v":0},{"t":"2026060501","v":1.0},{"t":"2026060523","v":1.0},
{"t":"2026060600","v":0},{"t":"2026060604","v":0},{"t":"2026060605","v":0.2},{"t":"2026060607","v":0.2},{"t":"2026060608","v":0.4},{"t":"2026060610","v":0.4},{"t":"2026060611","v":0.6},{"t":"2026060623","v":0.6},
{"t":"2026060700","v":0.2},{"t":"2026060720","v":0.2},{"t":"2026060721","v":0.8},{"t":"2026060722","v":1.5},{"t":"2026060723","v":2.8},
{"t":"2026060800","v":0.3},{"t":"2026060801","v":2.5},{"t":"2026060802","v":3.2},{"t":"2026060803","v":4.5},{"t":"2026060804","v":5.2},{"t":"2026060805","v":5.5},{"t":"2026060806","v":5.6},{"t":"2026060823","v":5.6},
{"t":"2026060900","v":0},{"t":"2026060902","v":0},{"t":"2026060903","v":1.0},{"t":"2026060904","v":2.4},{"t":"2026060905","v":2.3},{"t":"2026060906","v":3.0},{"t":"2026060907","v":3.7},{"t":"2026060908","v":3.9},{"t":"2026060910","v":3.9},{"t":"2026060911","v":5.5},{"t":"2026060912","v":6.0},{"t":"2026060913","v":6.1},{"t":"2026060914","v":6.2},{"t":"2026060923","v":6.2},
{"t":"2026061000","v":0},{"t":"2026061003","v":0},{"t":"2026061004","v":0.5},{"t":"2026061005","v":0.8},{"t":"2026061006","v":1.6},{"t":"2026061007","v":2.0},{"t":"2026061023","v":2.0},
{"t":"2026061100","v":0},{"t":"2026061106","v":0},{"t":"2026061107","v":0.8},{"t":"2026061108","v":3.5},{"t":"2026061109","v":4.9},{"t":"2026061110","v":6.2},{"t":"2026061111","v":7.6},{"t":"2026061112","v":8.2},{"t":"2026061113","v":8.6},{"t":"2026061115","v":8.6},{"t":"2026061116","v":9.0},{"t":"2026061117","v":9.7},{"t":"2026061118","v":10.0},{"t":"2026061123","v":10.0},
{"t":"2026061200","v":0},{"t":"2026061210","v":0},{"t":"2026061211","v":2.2},{"t":"2026061212","v":2.4},{"t":"2026061214","v":2.6},{"t":"2026061223","v":2.6},
{"t":"2026061300","v":0},{"t":"2026061601","v":0},{"t":"2026061602","v":1.8},{"t":"2026061609","v":1.8},{"t":"2026061610","v":2.0},{"t":"2026061620","v":2.0},{"t":"2026061621","v":2.2},{"t":"2026061623","v":2.2},
{"t":"2026061700","v":0},{"t":"2026061701","v":2.2},{"t":"2026061702","v":2.4},{"t":"2026061703","v":2.6},{"t":"2026061723","v":2.6},
{"t":"2026061800","v":0},{"t":"2026061814","v":0},{"t":"2026061815","v":0.5},{"t":"2026061816","v":9.5},{"t":"2026061817","v":15.0},{"t":"2026061818","v":15.2},{"t":"2026061823","v":15.2},
{"t":"2026061900","v":0},{"t":"2026061915","v":0},{"t":"2026061916","v":0.4},{"t":"2026061917","v":0.8},{"t":"2026061923","v":0.8},
{"t":"2026062000","v":0},{"t":"2026062802","v":0},{"t":"2026062803","v":1.1},{"t":"2026062804","v":1.6},{"t":"2026062806","v":1.6},{"t":"2026062807","v":2.2},{"t":"2026062808","v":2.6},{"t":"2026062823","v":2.6},
{"t":"2026062900","v":0},{"t":"2026063012","v":0}
        ]
      },
      "mark": {"type": "line", "strokeWidth": 2.1},
      "encoding": {"color": {"datum": "rainfallAmount_Millimetre"}}
    }
  ]
}
